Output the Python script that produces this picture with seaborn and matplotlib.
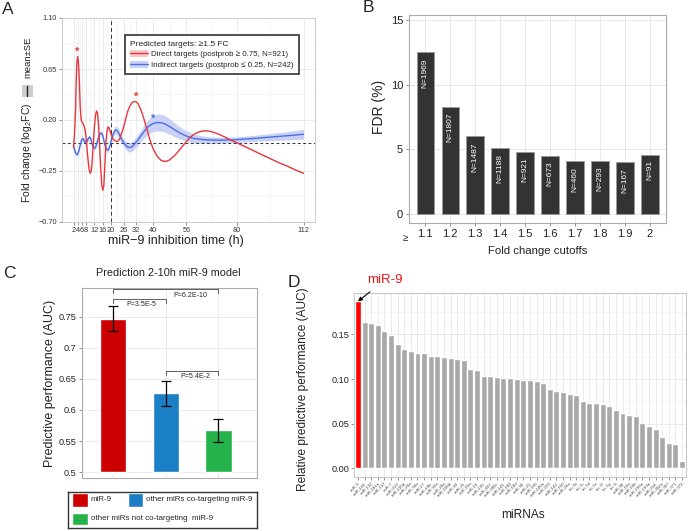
import numpy as np
import pandas as pd
import matplotlib
matplotlib.use("Agg")
import matplotlib.pyplot as plt
import matplotlib.transforms as mtransforms
from matplotlib.patches import Patch, Rectangle
from matplotlib.lines import Line2D
import seaborn as sns

sns.set_theme(style="white")
plt.rcParams["font.family"] = ["Liberation Sans", "DejaVu Sans"]
plt.rcParams["mathtext.fontset"] = "custom"
plt.rcParams["mathtext.rm"] = "Liberation Sans"
plt.rcParams["mathtext.it"] = "Liberation Sans:italic"
plt.rcParams["axes.unicode_minus"] = True

# ---------------- Panel A data ----------------
a_xticks = [2, 4, 6, 8, 12, 16, 20, 26, 32, 40, 56, 80, 112]
a_xminor = [3, 5, 7, 10, 14, 18, 23, 29, 36, 48, 68, 96]
a_yticks = [-0.70, -0.25, 0.20, 0.65, 1.10]
a_yticklabels = ["\u22120.70", "\u22120.25", "0.20", "0.65", "1.10"]
a_yminor = [-0.475, -0.025, 0.425, 0.875]

red_t = [2.0, 2.5, 3.0, 3.3, 3.6, 4.0, 4.4, 4.8, 5.2, 5.6, 6.0, 6.5, 7.0, 7.5, 8.0,
         8.5, 9.0, 9.5, 10.0, 10.5, 11.0, 11.5, 12.0, 12.5, 13.0, 13.5, 14.0, 14.5,
         15.0, 15.5, 16.0, 16.5, 17.0, 17.5, 18.0, 18.5, 19.0, 19.5, 20.0, 21.0,
         22.0, 23.0, 24.0, 25.0, 26.0, 27.0, 28.0, 29.0, 30.0, 31.0, 32.0, 33.0,
         34.0, 35.0, 36.0, 37.0, 38.0, 39.0, 40.0, 42.0, 44.0, 46.0, 48.0, 50.0,
         52.0, 54.0, 56.0, 58.0, 60.0, 62.0, 64.0, 66.0, 68.0, 70.0, 72.0, 74.0,
         76.0, 78.0, 80.0, 84.0, 88.0, 92.0, 96.0, 100.0, 104.0, 108.0, 112.0]
red_v = [-0.04, 0.08, 0.30, 0.55, 0.70, 0.76, 0.70, 0.54, 0.32, 0.21, 0.18, 0.17,
         0.15, 0.12, 0.05, -0.06, -0.16, -0.24, -0.27, -0.25, -0.15, 0.00, 0.14,
         0.24, 0.28, 0.26, 0.15, -0.03, -0.22, -0.37, -0.42, -0.38, -0.20, 0.00,
         0.10, 0.14, 0.13, 0.10, 0.07, 0.03, 0.015, 0.01, 0.03, 0.08, 0.14, 0.21,
         0.28, 0.325, 0.352, 0.364, 0.36, 0.34, 0.30, 0.25, 0.19, 0.125, 0.06,
         0.00, -0.05, -0.12, -0.158, -0.167, -0.152, -0.12, -0.08, -0.035, 0.01,
         0.05, 0.078, 0.095, 0.103, 0.104, 0.097, 0.085, 0.07, 0.053, 0.035,
         0.017, 0.00, -0.035, -0.07, -0.105, -0.14, -0.175, -0.205, -0.24, -0.27]

blue_t = [2.0, 2.5, 3.0, 3.5, 4.0, 4.5, 5.0, 5.5, 6.0, 6.5, 7.0, 7.5, 8.0, 8.5, 9.0,
          9.5, 10.0, 10.5, 11.0, 11.5, 12.0, 12.5, 13.0, 13.5, 14.0, 14.5, 15.0,
          15.5, 16.0, 16.5, 17.0, 17.5, 18.0, 18.5, 19.0, 19.5, 20.0, 21.0, 22.0,
          23.0, 24.0, 25.0, 26.0, 27.0, 28.0, 29.0, 30.0, 32.0, 34.0, 36.0, 38.0,
          40.0, 42.0, 44.0, 46.0, 48.0, 50.0, 52.0, 54.0, 56.0, 58.0, 60.0, 64.0,
          68.0, 72.0, 76.0, 80.0, 88.0, 96.0, 104.0, 112.0]
blue_v = [-0.03, -0.065, -0.09, -0.105, -0.10, -0.075, -0.035, 0.00, 0.03, 0.035,
          0.02, 0.005, 0.00, 0.015, 0.035, 0.048, 0.045, 0.02, -0.02, -0.045, -0.05,
          -0.04, -0.015, 0.02, 0.05, 0.075, 0.085, 0.082, 0.06, 0.02, -0.02, -0.05,
          -0.062, -0.065, -0.05, -0.02, 0.02, 0.08, 0.113, 0.105, 0.07, 0.03, 0.00,
          -0.025, -0.04, -0.042, -0.035, 0.005, 0.055, 0.105, 0.145, 0.168, 0.178,
          0.176, 0.163, 0.142, 0.118, 0.095, 0.075, 0.058, 0.045, 0.036, 0.027,
          0.023, 0.022, 0.024, 0.027, 0.037, 0.049, 0.061, 0.074]
blue_se = [0.02, 0.02, 0.02, 0.02, 0.02, 0.02, 0.02, 0.02, 0.02, 0.02, 0.02, 0.02,
           0.02, 0.02, 0.02, 0.02, 0.02, 0.02, 0.02, 0.02, 0.02, 0.02, 0.02, 0.02,
           0.02, 0.02, 0.02, 0.02, 0.02, 0.02, 0.02, 0.02, 0.02, 0.02, 0.02, 0.02,
           0.025, 0.03, 0.035, 0.035, 0.035, 0.035, 0.035, 0.035, 0.04, 0.04, 0.04,
           0.045, 0.05, 0.06, 0.065, 0.07, 0.075, 0.075, 0.072, 0.068, 0.062, 0.056,
           0.05, 0.046, 0.042, 0.038, 0.032, 0.028, 0.026, 0.025, 0.025, 0.027,
           0.031, 0.037, 0.043]

red_star = (4, 0.80)
red_star2 = (32, 0.40)
blue_star = (40, 0.21)

# ---------------- Panel B data ----------------
b_cutoffs = ["1.1", "1.2", "1.3", "1.4", "1.5", "1.6", "1.7", "1.8", "1.9", "2"]
b_fdr = [12.5, 8.3, 6.0, 5.1, 4.8, 4.5, 4.1, 4.1, 4.0, 4.6]
b_n = ["N=1969", "N=1807", "N=1487", "N=1188", "N=921", "N=673", "N=460",
       "N=293", "N=167", "N=91"]

# ---------------- Panel C data ----------------
c_groups = ["miR-9", "other miRs co-targeting miR-9",
            "other miRs not co-targeting  miR-9"]
c_auc = [0.747, 0.627, 0.567]
c_err = [0.020, 0.020, 0.018]
c_colors = ["#CC0000", "#1B7FC6", "#25B24A"]
c_yticks = [0.5, 0.55, 0.6, 0.65, 0.7, 0.75]
c_yticklabels = ["0.5", "0.55", "0.6", "0.65", "0.7", "0.75"]

# ---------------- Panel D data ----------------
d_names = ["miR-9", "miR-124", "miR-132", "miR-181a", "miR-137", "miR-7",
           "miR-219", "miR-125b", "miR-29a", "miR-34a", "miR-17", "miR-19b",
           "miR-92a", "miR-20a", "miR-106b", "miR-93", "miR-25", "miR-15a",
           "miR-16", "miR-195", "miR-497", "miR-200c", "miR-141", "miR-182",
           "miR-183", "miR-96", "miR-21", "miR-155", "miR-146a", "miR-223",
           "miR-142", "miR-150", "miR-26a", "let-7b", "let-7c", "let-7d",
           "let-7e", "let-7f", "let-7g", "let-7i", "miR-98", "miR-10a",
           "miR-10b", "miR-196a", "miR-199a", "miR-214", "miR-302a", "miR-367",
           "miR-371", "miR-372"]
d_auc = [0.187, 0.1634, 0.1623, 0.1608, 0.1534, 0.1496, 0.1396, 0.134, 0.1315,
         0.1292, 0.1292, 0.1263, 0.1255, 0.1244, 0.1237, 0.1222, 0.1211, 0.1114,
         0.1103, 0.1029, 0.1029, 0.1017, 0.1014, 0.101, 0.0995, 0.0991, 0.0984,
         0.0977, 0.0951, 0.0884, 0.0861, 0.0854, 0.0832, 0.0817, 0.0754, 0.0735,
         0.0735, 0.072, 0.0698, 0.0654, 0.0624, 0.0602, 0.0583, 0.0505, 0.0475,
         0.0438, 0.0356, 0.0282, 0.0267, 0.0078]
d_colors = ["#FF0000"] + ["#A8A8A8"] * (len(d_names) - 1)

RED = "#E8353C"
BLUE = "#4A6EE6"
GRID = "#E8E8E8"
GRID_MINOR = "#F3F3F3"
FRAME = "#B8B8B8"

W, H = 697, 531
fig = plt.figure(figsize=(W / 100, H / 100), dpi=100)


def px_axes(l, r, t, b):
    return fig.add_axes([l / W, 1 - b / H, (r - l) / W, (b - t) / H])


def fx(x):
    return x / W


def fy(y):
    return 1 - y / H


def style_frame(ax, color=FRAME, lw=0.8):
    for s in ax.spines.values():
        s.set_visible(True)
        s.set_color(color)
        s.set_linewidth(lw)


# ======================= Panel A =======================
axA = px_axes(62, 315, 18, 222)
axA.set_xlim(-3.5, 117.5)
axA.set_ylim(-0.70, 1.10)
for t in a_xminor:
    axA.axvline(t, color=GRID_MINOR, lw=0.5, zorder=0)
for t in a_xticks:
    axA.axvline(t, color=GRID, lw=0.6, zorder=0)
for y in a_yminor:
    axA.axhline(y, color=GRID_MINOR, lw=0.5, zorder=0)
for y in a_yticks:
    axA.axhline(y, color=GRID, lw=0.6, zorder=0)

bt = np.array(blue_t)
bv = np.array(blue_v)
bs = np.array(blue_se)
axA.fill_between(bt, bv - bs, bv + bs, color="#C9D1F7", lw=0, zorder=1)
sns.lineplot(x=blue_t, y=blue_v, color=BLUE, lw=1.0, ax=axA, zorder=3)
sns.lineplot(x=red_t, y=red_v, color=RED, lw=1.0, ax=axA, zorder=4)
axA.axvline(20, color="#333333", lw=0.7, ls=(0, (4, 3)), zorder=2)
axA.axhline(0, color="#333333", lw=0.7, ls=(0, (3, 2.5)), zorder=2)
for (x, y), c in [(red_star, RED), (red_star2, RED), (blue_star, BLUE)]:
    axA.text(x, y, "*", color=c, ha="center", va="center", fontsize=8,
             fontweight="bold", zorder=5)

axA.set_xticks(a_xticks)
axA.set_xticklabels([str(t) for t in a_xticks], fontsize=5.3, color="#333333")
axA.set_yticks(a_yticks)
axA.set_yticklabels(a_yticklabels, fontsize=5.3, color="#333333")
axA.tick_params(axis="both", length=2, width=0.5, color="#666666", pad=1.5,
                bottom=True, left=True)
axA.set_xlabel("")
axA.set_ylabel("")
style_frame(axA, "#CCCCCC", 0.7)

handles = [(Patch(facecolor="#F6CACA", edgecolor="none"), Line2D([], [], color=RED, lw=1.0)),
           (Patch(facecolor="#C9D1F7", edgecolor="none"), Line2D([], [], color=BLUE, lw=1.0))]
leg = axA.legend(handles,
                 ["Direct targets (postprob \u2265 0.75, N=921)",
                  "Indirect targets (postprob \u2264 0.25, N=242)"],
                 title="Predicted targets: \u22651.5 FC", loc="upper right",
                 bbox_to_anchor=(0.952, 0.936), fontsize=5.7, title_fontsize=6.0,
                 frameon=True, fancybox=False, framealpha=1, edgecolor="#333333",
                 handlelength=2.2, handleheight=1.0, borderpad=0.7, labelspacing=0.3,
                 handletextpad=0.4)
leg._legend_box.align = "left"
leg.get_frame().set_linewidth(1.2)

fig.text(fx(176), fy(241), "miR\u22129 inhibition time (h)", ha="center", va="center",
         fontsize=9, color="#222222")
fig.text(fx(27), fy(153), "Fold change (log$_{2}$FC)", rotation=90, ha="center",
         va="center", fontsize=7.5, color="#222222")
fig.patches.append(Rectangle((fx(21.7), fy(96.7)), 11.6 / W, 11.7 / H,
                             transform=fig.transFigure, facecolor="#CCCCCC",
                             edgecolor="none"))
fig.lines.append(Line2D([fx(27.4), fx(27.4)], [fy(95.5), fy(86)],
                        transform=fig.transFigure, color="#222222", lw=1.0))
fig.text(fx(28), fy(57), "mean\u00b1SE", rotation=90, ha="center", va="center",
         fontsize=6.8, color="#222222")
fig.text(fx(2), fy(9), "A", ha="left", va="center", fontsize=12.5)

# ======================= Panel B =======================
axB = px_axes(409.3, 666, 15, 222.7)
sns.barplot(x=b_cutoffs, y=b_fdr, color="#333333", saturation=1, width=0.7,
            edgecolor="#9A9A9A", linewidth=0.6, ax=axB, zorder=3)
axB.set_xlim(-0.64, 9.64)
axB.set_ylim(-0.68, 15.4)
axB.set_yticks([0, 5, 10, 15])
axB.set_yticklabels(["0", "5", "10", "15"], fontsize=8, color="#222222")
axB.set_xticklabels(b_cutoffs, fontsize=8, color="#222222")
axB.grid(True, color=GRID, lw=0.7)
axB.set_axisbelow(True)
axB.tick_params(axis="both", length=2.5, width=0.5, color="#666666", pad=2,
                bottom=True, left=True)
for i, (v, n) in enumerate(zip(b_fdr, b_n)):
    axB.text(i, v - 0.45, n, rotation=90, ha="center", va="top", color="white",
             fontsize=6, zorder=4)
trB = mtransforms.blended_transform_factory(axB.transData, axB.transAxes)
axB.text(-0.8, -0.072, "\u2265", transform=trB, ha="center", va="center",
         fontsize=7, color="#222222")
axB.set_xlabel("")
axB.set_ylabel("")
style_frame(axB, "#AAAAAA", 0.8)
fig.text(fx(537.5), fy(251.5), "Fold change cutoffs", ha="center", va="center",
         fontsize=8.2, color="#222222")
fig.text(fx(379), fy(107), "FDR (%)", rotation=90, ha="center", va="center",
         fontsize=10, color="#222222")
fig.text(fx(363), fy(8), "B", ha="left", va="center", fontsize=12.5)

# ======================= Panel C =======================
axC = px_axes(81.7, 256.7, 288.3, 478.3)
sns.barplot(x=c_groups, y=c_auc, hue=c_groups, palette=c_colors, saturation=1,
            width=0.5, legend=False, ax=axC, zorder=3)
for p in axC.patches:
    top = p.get_y() + p.get_height()
    p.set_y(0.5)
    p.set_height(top - 0.5)
axC.errorbar(x=[0, 1, 2], y=c_auc, yerr=c_err, fmt="none", ecolor="black",
             elinewidth=0.9, capsize=3.6, capthick=0.9, zorder=4)
axC.set_xlim(-0.595, 2.728)
axC.set_ylim(0.49, 0.796)
axC.set_yticks(c_yticks)
axC.set_yticklabels(c_yticklabels, fontsize=6.6, color="#222222")
axC.set_xticklabels([])
axC.grid(True, color=GRID, lw=0.6)
axC.set_axisbelow(True)
axC.tick_params(axis="y", length=2, width=0.5, color="#666666", pad=1.5, left=True)
axC.tick_params(axis="x", length=0)
axC.set_xlabel("")
axC.set_ylabel("")
style_frame(axC, "#AAAAAA", 0.8)


def bracket(ax, x1, x2, y, h):
    ax.plot([x1, x1, x2, x2], [y - h, y, y, y - h], color="#444444", lw=0.6,
            zorder=5, clip_on=False)


bracket(axC, 0, 1, 0.778, 0.006)
bracket(axC, 0, 2, 0.7955, 0.007)
bracket(axC, 1, 2, 0.663, 0.006)
axC.text(0.53, 0.7705, "P=3.5E-5", ha="center", va="center", fontsize=5.1)
axC.text(1.47, 0.7838, "P=6.2E-10", ha="center", va="center", fontsize=5.1)
axC.text(1.57, 0.6545, "P=5.4E-2", ha="center", va="center", fontsize=5.1)
fig.text(fx(168), fy(273.5), "Prediction 2-10h miR-9 model", ha="center",
         va="center", fontsize=7.8, color="#222222")
fig.text(fx(50), fy(383), "Predictive performance (AUC)", rotation=90, ha="center",
         va="center", fontsize=9, color="#222222")
fig.text(fx(3), fy(274), "C", ha="left", va="center", fontsize=12.5)

# legend box of C
axL = fig.add_axes([fx(68.3), fy(528.3), 188.4 / W, 36.6 / H])
axL.set_xlim(0, 1)
axL.set_ylim(0, 1)
axL.set_xticks([])
axL.set_yticks([])
style_frame(axL, "#333333", 1.0)
axL.add_patch(Rectangle((0.018, 0.59), 0.088, 0.37, facecolor=c_colors[0]))
axL.text(0.118, 0.775, c_groups[0], ha="left", va="center", fontsize=5.8)
axL.add_patch(Rectangle((0.318, 0.59), 0.08, 0.37, facecolor=c_colors[1]))
axL.text(0.41, 0.775, c_groups[1], ha="left", va="center", fontsize=5.8)
axL.add_patch(Rectangle((0.018, 0.09), 0.088, 0.33, facecolor=c_colors[2]))
axL.text(0.118, 0.26, c_groups[2], ha="left", va="center", fontsize=5.8)

# ======================= Panel D =======================
axD = px_axes(354, 686, 293.3, 476.7)
sns.barplot(x=d_names, y=d_auc, hue=d_names, palette=d_colors, saturation=1,
            width=0.9, legend=False, ax=axD, zorder=3)
axD.set_xlim(-0.6, len(d_names) - 0.4)
axD.set_ylim(-0.0094, 0.196)
axD.set_yticks([0, 0.05, 0.10, 0.15])
axD.set_yticklabels(["0.00", "0.05", "0.10", "0.15"], fontsize=6.6, color="#222222")
for y in [0.025, 0.075, 0.125, 0.175]:
    axD.axhline(y, color=GRID_MINOR, lw=0.5, zorder=0)
axD.grid(True, color=GRID, lw=0.6)
axD.set_axisbelow(True)
axD.set_xticks(range(len(d_names)))
axD.set_xticklabels(d_names, rotation=45, ha="right", rotation_mode="anchor",
                    fontsize=3.2, color="#444444")
axD.tick_params(axis="both", length=2, width=0.5, color="#666666", pad=1.5,
                bottom=True, left=True)
axD.set_xlabel("")
axD.set_ylabel("")
style_frame(axD, "#C8C8C8", 0.8)
axD.annotate("miR-9", xy=(0, d_auc[0]), xycoords="data",
             xytext=(fx(385), fy(280)), textcoords="figure fraction",
             ha="center", va="center", fontsize=9.5, color="#EE1111",
             arrowprops=dict(arrowstyle="-|>", color="black", lw=0.8,
                             mutation_scale=6, shrinkA=3, shrinkB=0))
fig.text(fx(523), fy(515), "miRNAs", ha="center", va="center", fontsize=8.6,
         color="#222222")
fig.text(fx(303), fy(389), "Relative predictive performance (AUC)", rotation=90,
         ha="center", va="center", fontsize=8.6, color="#222222")
fig.text(fx(288), fy(282.5), "D", ha="left", va="center", fontsize=12.5)

fig.savefig("out.png", dpi=100)
